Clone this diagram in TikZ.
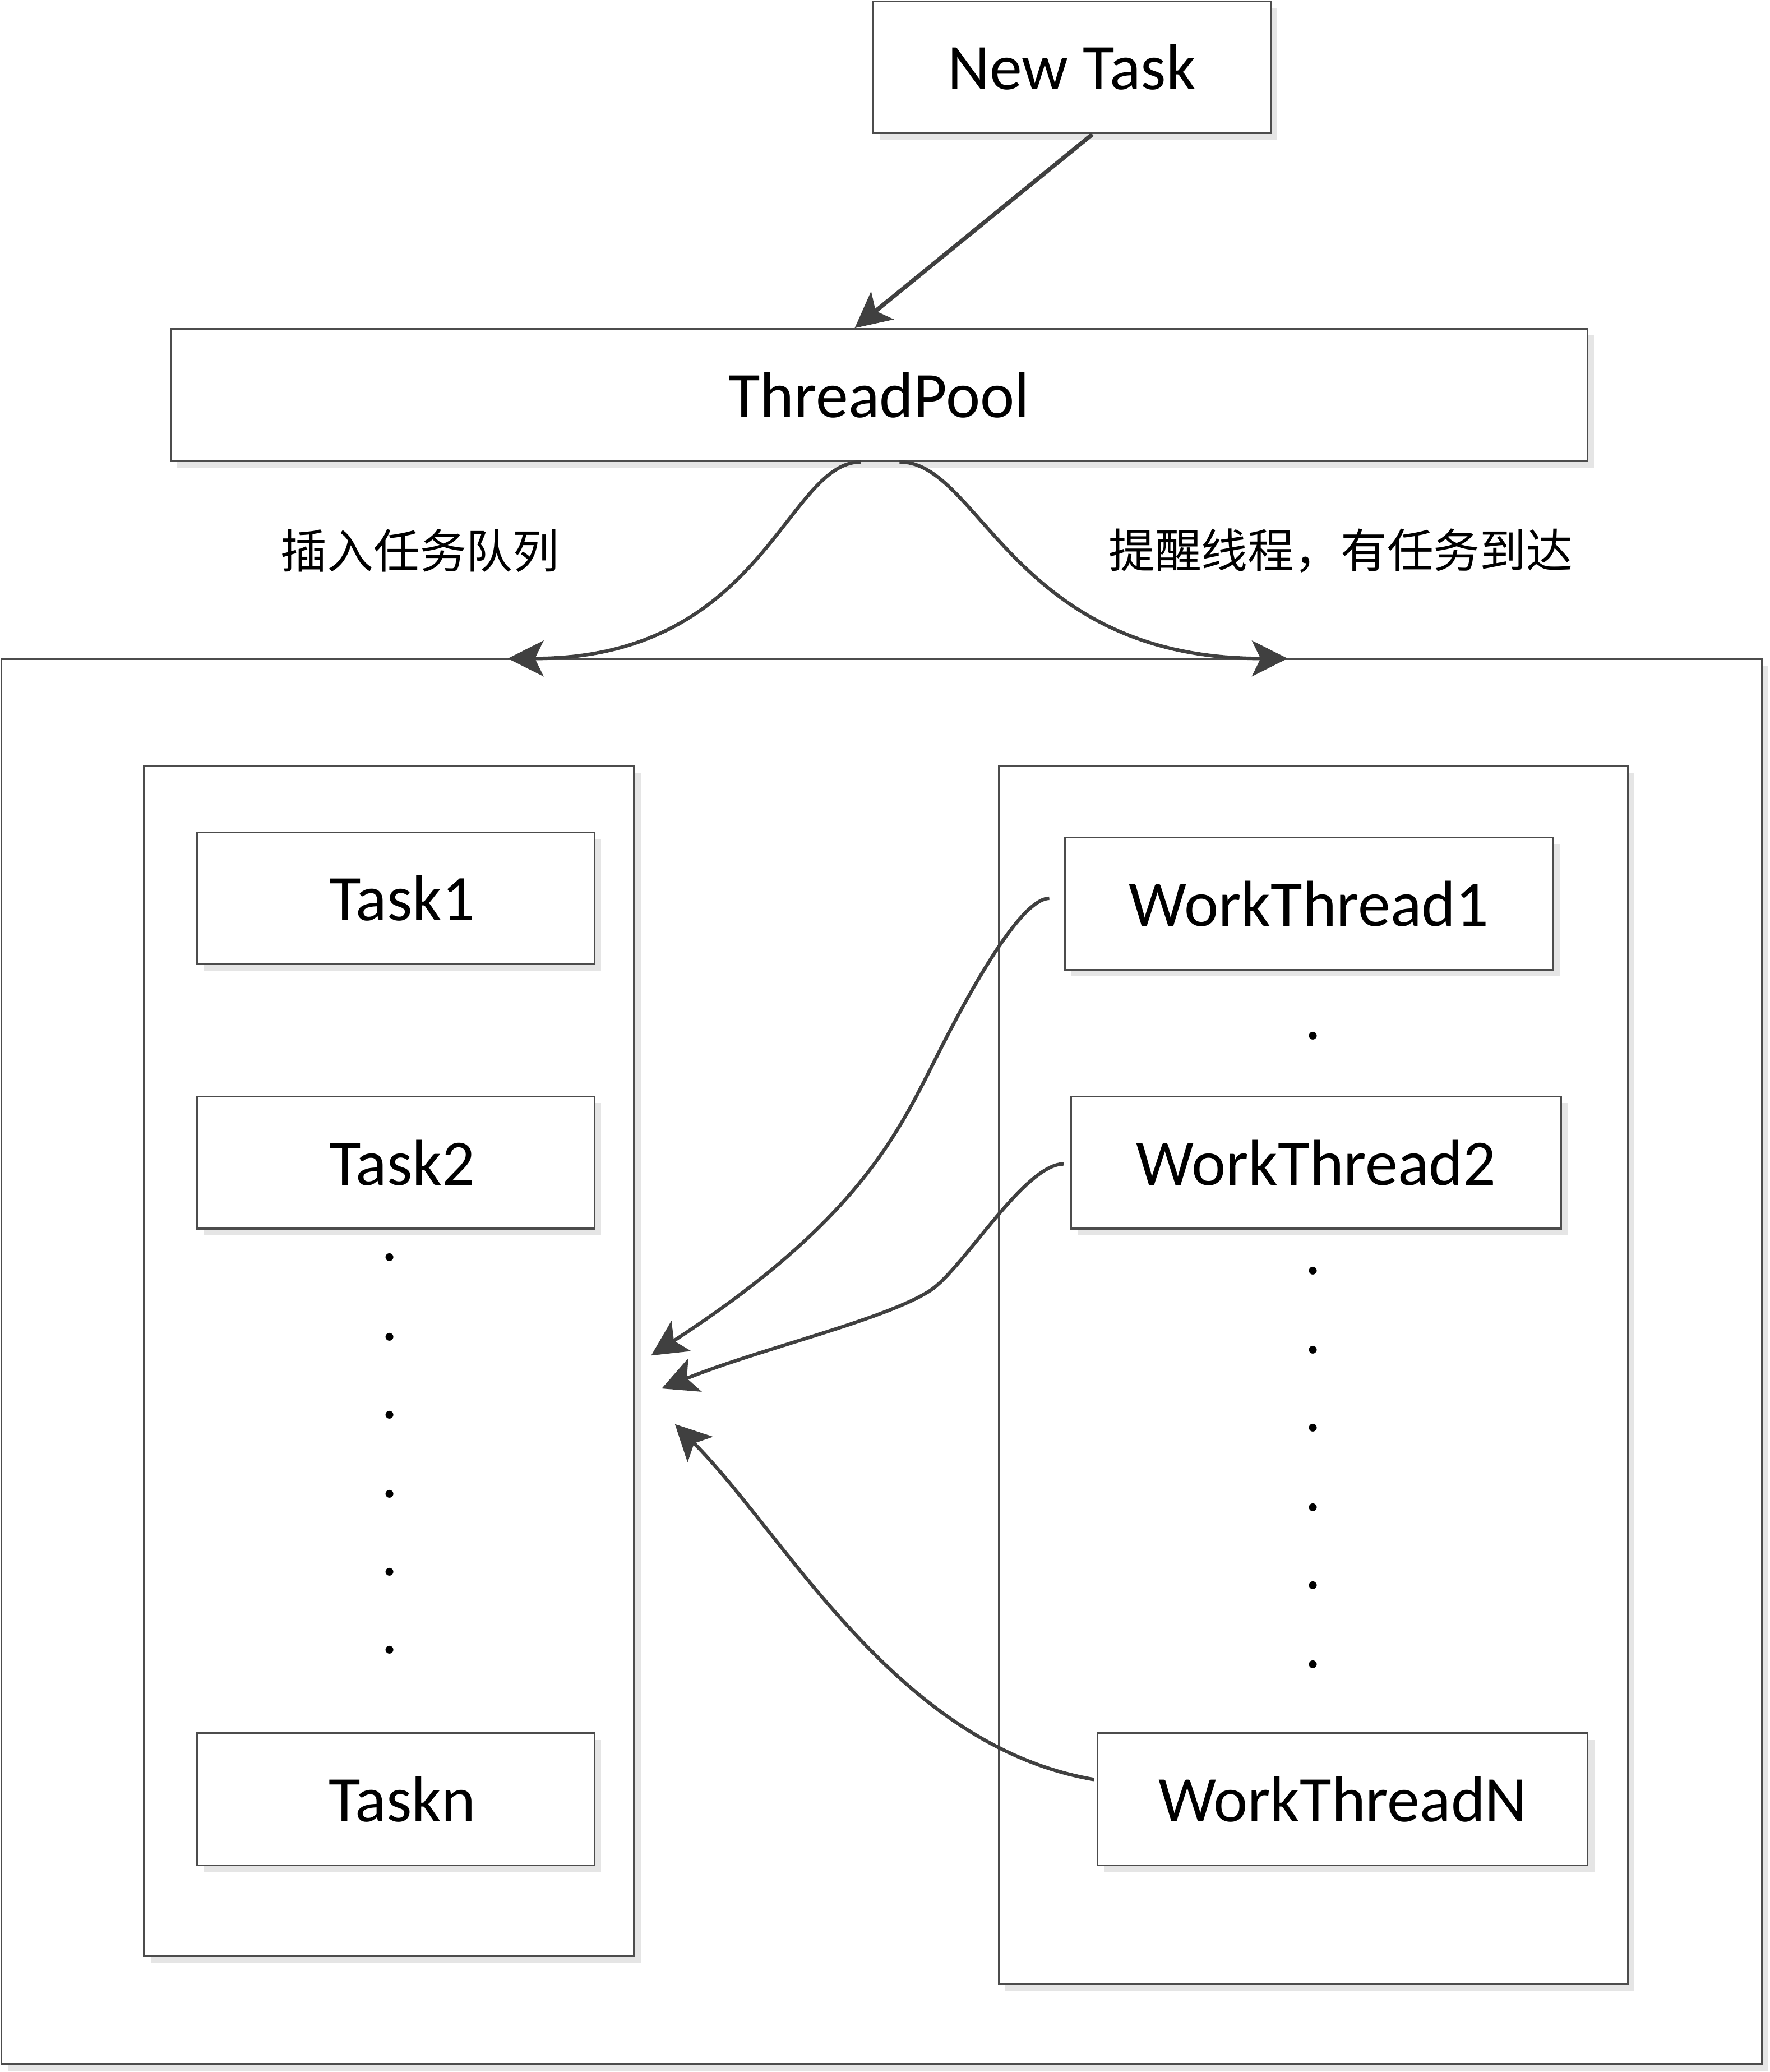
\documentclass[tikz,border=0pt]{standalone}
\usepackage{fontspec}
\setmainfont{Carlito}
\newfontfamily\cjk{Noto Sans CJK SC}
\usetikzlibrary{arrows.meta,shadows}

\begin{document}
\begin{tikzpicture}[x=0.02cm, y=-0.02cm,
  box/.style={draw=black!70, line width=0.75pt, fill=white, inner sep=0pt,
    drop shadow={shadow xshift=0.1cm, shadow yshift=-0.1cm, fill=black!10, opacity=1},
    font=\fontsize{28}{34}\selectfont},
  link/.style={draw=black!75, line width=1.5pt, -{Stealth[length=0.54cm, width=0.54cm, inset=0.13cm]}},
  note/.style={font=\cjk\fontsize{20}{24}\selectfont},
  dotmark/.style={inner sep=0pt, font=\fontsize{28}{34}\selectfont}]
\useasboundingbox (0,0) rectangle (1340,1568.4);
\node[box, minimum width=26.66cm, minimum height=21.27cm] (outer) at (667.5,1030.75) {};
\node[box, minimum width=7.42cm, minimum height=18.02cm] (taskq) at (294.5,1030.5) {};
\node[box, minimum width=9.53cm, minimum height=18.44cm] (workers) at (994.3,1041) {};
\node[box, minimum width=6.02cm, minimum height=2cm] (newtask) at (811.5,51) {New Task};
\node[box, minimum width=21.46cm, minimum height=2cm] (pool) at (665.5,299) {ThreadPool};
\node[box, minimum width=6.02cm, minimum height=2cm] (task1) at (299.5,680) {\hspace{0.2cm}Task1};
\node[box, minimum width=6.02cm, minimum height=2cm] (task2) at (299.5,880) {\hspace{0.2cm}Task2};
\node[box, minimum width=6.02cm, minimum height=2cm] (taskn) at (299.5,1362) {\hspace{0.2cm}Taskn};
\node[box, minimum width=7.4cm, minimum height=2cm] (wt1) at (991,684) {WorkThread1};
\node[box, minimum width=7.42cm, minimum height=2cm] (wt2) at (996.5,880) {WorkThread2};
\node[box, minimum width=7.42cm, minimum height=2cm] (wtn) at (1016.5,1362) {WorkThreadN};
\node[note] (insert) at (318,417) {插入任务队列};
\node[note] (notify) at (1015,417) {提醒线程，有任务到达};
\foreach \y in {952,1012,1071,1131,1190,1249}
  \node[dotmark] (qdot\y) at (295,\y) {.};
\foreach \y in {784,962,1022,1081,1141,1200,1260}
  \node[dotmark] (wdot\y) at (994,\y) {.};
\coordinate (bend1) at (704,810);
\coordinate (bend2) at (704,977);
\coordinate (tip1) at (493,1026);
\coordinate (tip2) at (501,1051);
\coordinate (tip3) at (511,1078);
\draw[link, line width=1.8pt] (newtask.-73.8) -- (pool.110.3);
\draw[link] (pool.-105.1) .. controls +(-57,0) and +(194,0) .. (outer.118.2);
\draw[link] (pool.-73.8) .. controls +(61,0) and +(-208,0) .. (outer.60.4);
\draw[link] ([shift={(-11,-4)}]wt1.west) .. controls +(-25,0) and +(18,-36) .. (bend1)
  .. controls +(-27,53) and +(151,-98) .. (tip1);
\draw[link] ([shift={(-5,1)}]wt2.west) .. controls +(-30,0) and +(25,-16) .. (bend2)
  .. controls +(-34,22) and +(74,-30) .. (tip2);
\draw[link] ([shift={(-2,-15)}]wtn.west) .. controls +(-150,-25.5) and +(84,84) .. (tip3);
\end{tikzpicture}
\end{document}
